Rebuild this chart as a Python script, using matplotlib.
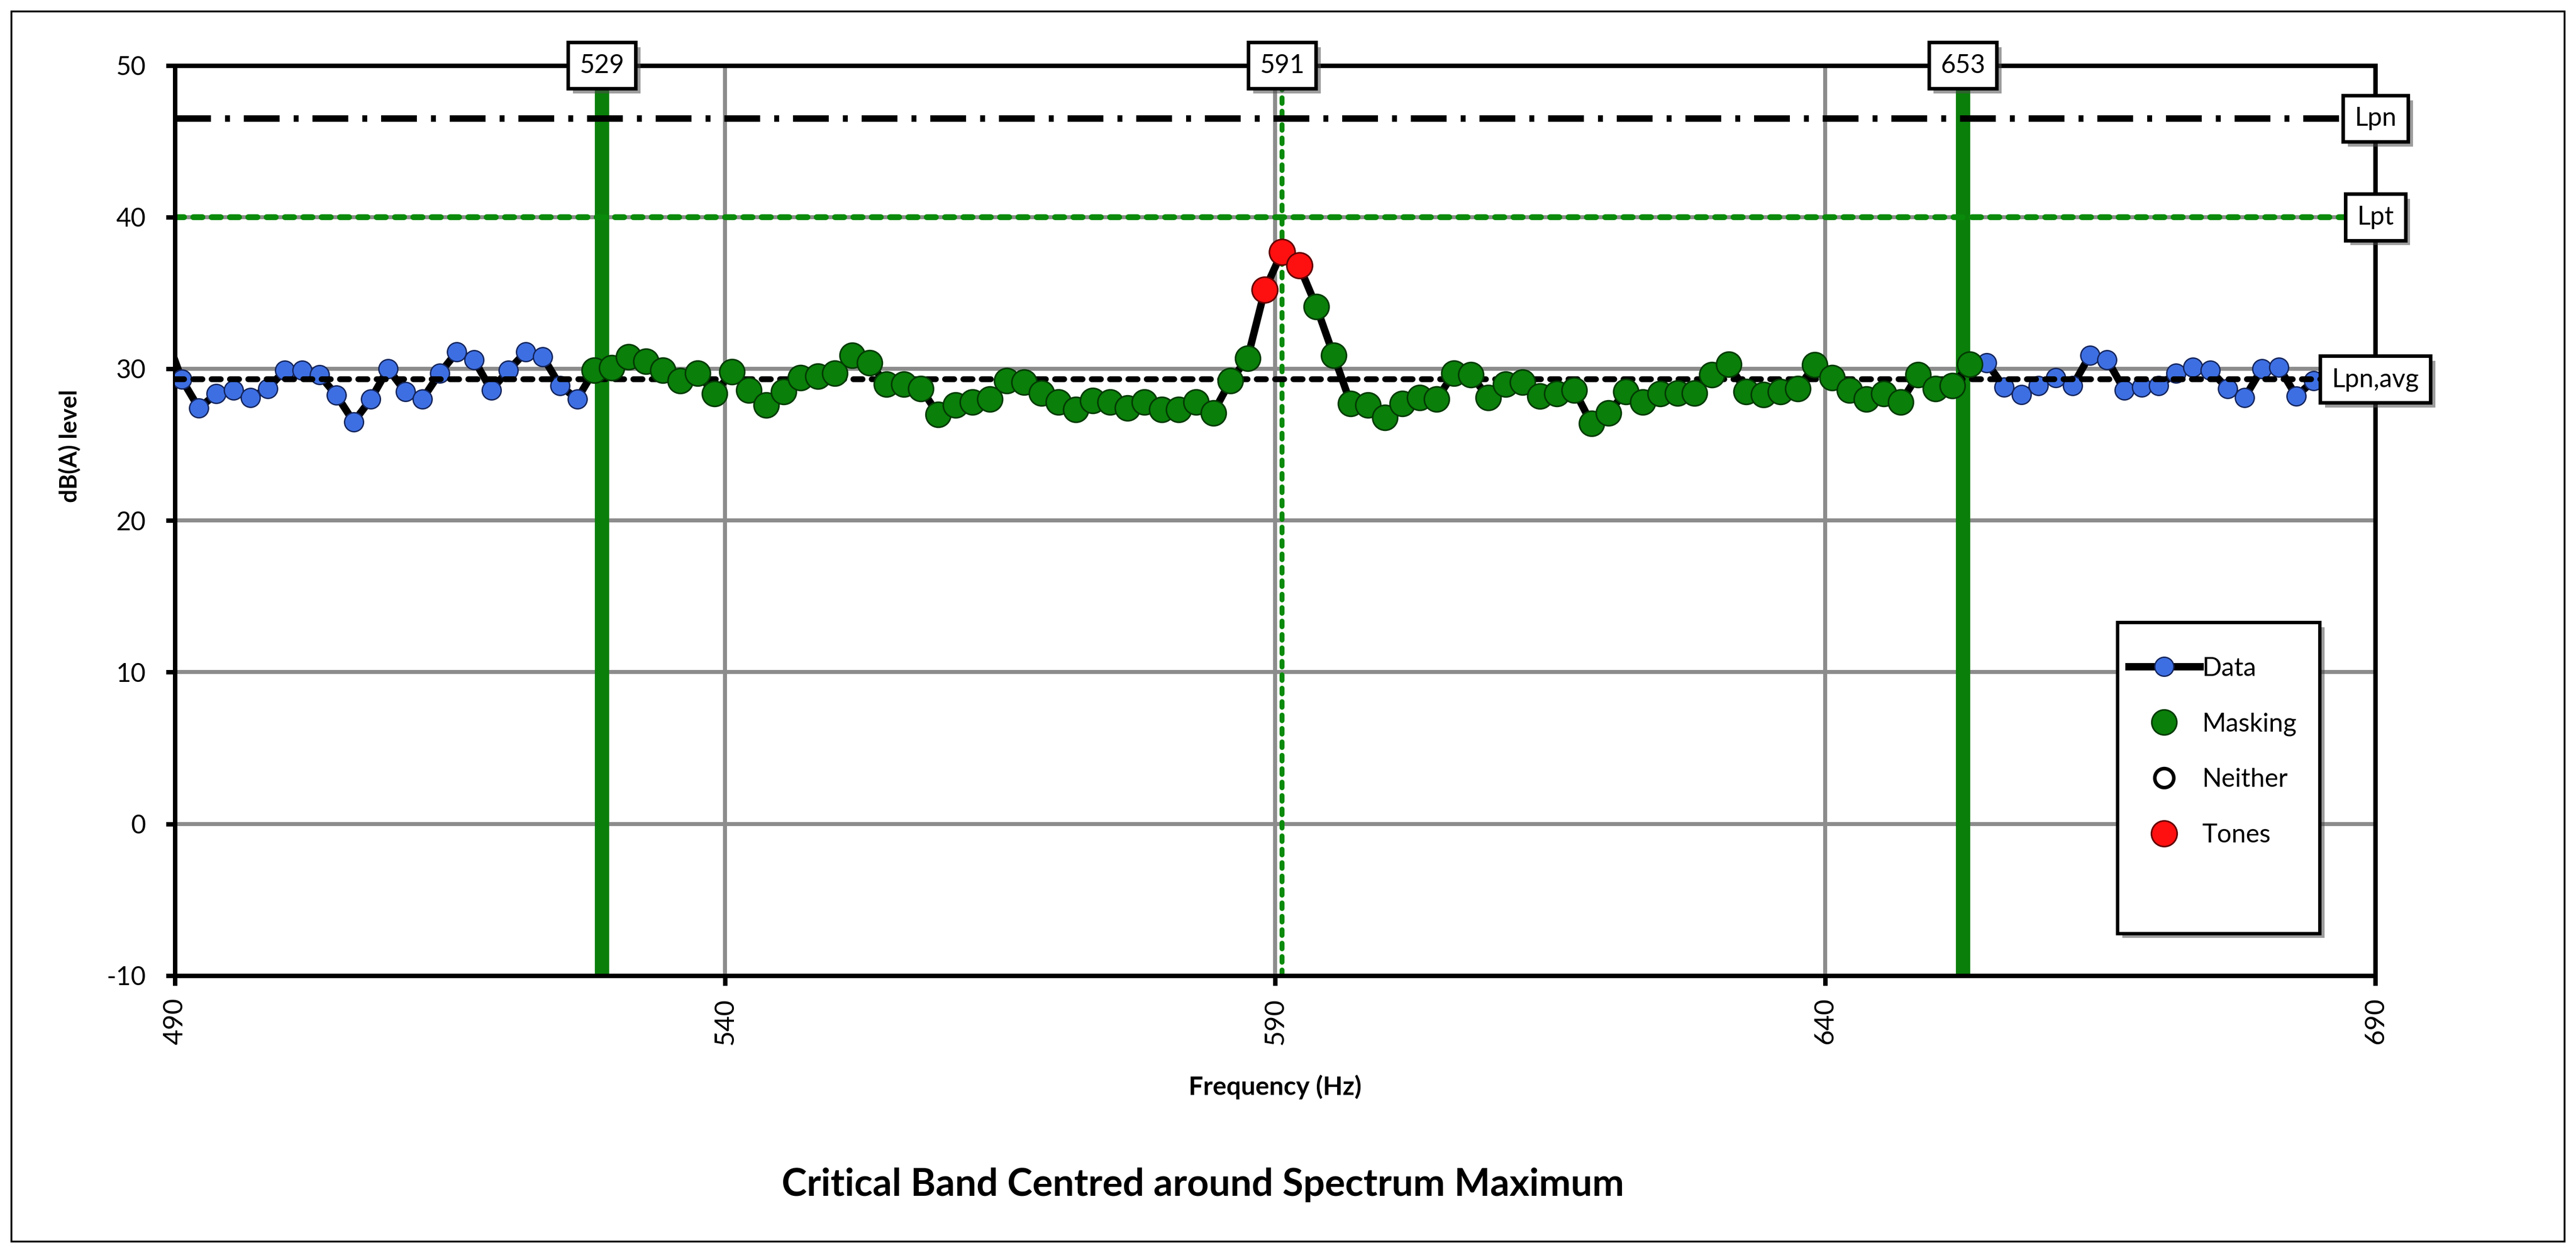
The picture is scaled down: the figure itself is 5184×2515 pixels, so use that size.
import numpy as np
import matplotlib
matplotlib.use('Agg')
import matplotlib.pyplot as plt
from matplotlib.patches import Rectangle
import matplotlib.patheffects as pe

plt.rcParams['font.family'] = ['Lato', 'DejaVu Sans']
plt.rcParams['lines.scale_dashes'] = False
plt.rcParams['axes.unicode_minus'] = False

# spectrum levels, one per FFT bin (1.5625 Hz wide), first bin = 313
bin_width = 1.5625
first_bin = 313
level = np.array([
    32.4, 29.3, 27.4, 28.35, 28.6, 28.1, 28.7, 29.9, 29.9, 29.6, 28.25, 26.5,
    28.0, 30.0, 28.5, 28.0, 29.7, 31.1, 30.6, 28.6, 29.9, 31.1, 30.8, 28.9, 28.0,
    29.9, 30.06, 30.8, 30.5, 29.9, 29.2, 29.7, 28.35, 29.8,
    28.6, 27.6, 28.5, 29.4, 29.5, 29.7, 30.9, 30.4, 29.0, 29.0, 28.7, 27.0,
    27.6, 27.8, 28.0, 29.2, 29.1, 28.4, 27.8, 27.3, 27.9, 27.8, 27.4, 27.8,
    27.3, 27.3, 27.8, 27.1, 29.2, 30.7, 35.2, 37.7, 36.8, 34.1, 30.9,
    27.7, 27.6, 26.8, 27.7, 28.1, 28.0, 29.7, 29.6, 28.1, 29.0, 29.1, 28.2,
    28.35, 28.6, 26.4, 27.1, 28.5, 27.8, 28.35, 28.4, 28.4, 29.6, 30.3, 28.5,
    28.3, 28.5, 28.7, 30.25, 29.4, 28.6, 28.0, 28.35, 27.8, 29.6, 28.7, 28.9,
    30.3,
    30.4, 28.8, 28.3, 28.9, 29.4, 28.9, 30.9, 30.6, 28.6, 28.8, 28.9, 29.7,
    30.1, 29.9, 28.7, 28.1, 30.0, 30.1, 28.2, 29.2, 29.0,
])
freq = bin_width * (first_bin + np.arange(len(level)))

# critical band and tone classification
band_lines = [528.8, 590.625, 652.5]
band_labels = ['529', '591', '653']
masking_range = (528.1, 653.2)
tone_freqs = [589.0625, 590.625, 592.1875]

# reference levels
ref_levels = [46.5, 40.0, 29.3]
ref_labels = ['Lpn', 'Lpt', 'Lpn,avg']

is_tone = np.isin(freq, tone_freqs)
is_mask = (freq >= masking_range[0]) & (freq <= masking_range[1]) & ~is_tone

green = '#0a7f0a'

fig = plt.figure(figsize=(16, 2515.5 / 324), dpi=324)
ax = fig.add_axes([0.0679, 0.2195, 0.8542, 0.728])

ax.set_xlim(490, 690)
ax.set_ylim(-10, 50)
ax.set_xticks(np.arange(490, 691, 50))
ax.set_yticks(np.arange(-10, 51, 10))
ax.grid(True, color='#8c8c8c', lw=1.8)
ax.set_axisbelow(True)
for s in ax.spines.values():
    s.set_linewidth(2)

# critical band edges and centre
ax.axvline(band_lines[0], color=green, lw=6.4, zorder=1)
ax.axvline(band_lines[2], color=green, lw=6.4, zorder=1)
ax.axvline(band_lines[1], color='#0a8a0a', lw=2.2, dashes=(2.5, 3.5),
           dash_capstyle='round', zorder=1.5)

# reference levels
ax.axhline(ref_levels[0], color='black', lw=2.9, dashes=(16, 6.3, 2.2, 6.2), zorder=2)
ax.axhline(ref_levels[1], color='#0a8a0a', lw=2.6, dashes=(4.1, 4.1),
           dash_capstyle='round', zorder=2)

ax.plot(freq, level, '-o', color='black', lw=3.3, mfc='#3d6fe3', mec='#14245a',
        mew=0.6, ms=8.5, zorder=3, label='Data')
ax.axhline(ref_levels[2], color='black', lw=2.6, dashes=(4.1, 4.1),
           dash_capstyle='round', zorder=4)
ax.plot(freq[is_mask], level[is_mask], 'o', ls='none', mfc=green, mec='#033a03',
        mew=0.7, ms=11.2, zorder=5, label='Masking')
ax.plot([], [], 'o', ls='none', mfc='white', mec='black', mew=1.6, ms=8.5,
        label='Neither')
ax.plot(freq[is_tone], level[is_tone], 'o', ls='none', mfc='#ff1010', mec='#600000',
        mew=0.7, ms=11.5, zorder=6, label='Tones')

shadow = [pe.SimplePatchShadow(offset=(2.2, -2.2), shadow_rgbFace='0.3', alpha=0.55),
          pe.Normal()]


def tag(x, y, s):
    t = ax.text(x, y, s, ha='center', va='center', fontsize=11.5, zorder=10,
                clip_on=False,
                bbox=dict(boxstyle='square,pad=0.45', fc='white', ec='black', lw=1.6))
    t.get_bbox_patch().set_path_effects(shadow)


for x, s in zip(band_lines, band_labels):
    tag(x, 50, s)
for y, s in zip(ref_levels, ref_labels):
    tag(690, y, s)

# legend
frame = Rectangle((0.8828, 0.0466), 0.0919, 0.3414, transform=ax.transAxes,
                  fc='white', ec='black', lw=1.5, zorder=7)
frame.set_path_effects(shadow)
ax.add_patch(frame)
leg = ax.legend(loc='center left', bbox_to_anchor=(0.888, 0.246), frameon=False,
                fontsize=11.5, handlelength=2.75, handletextpad=0.1,
                labelspacing=1.25, borderpad=0, borderaxespad=0, numpoints=1)
leg.set_zorder(8)

ax.tick_params(axis='y', direction='out', length=4, width=2, pad=9, labelsize=11.5)
ax.tick_params(axis='x', direction='out', length=4.4, width=2, pad=5.4,
               labelsize=12, labelrotation=90)

ax.set_ylabel('dB(A) level', fontsize=10.5, fontweight='bold')
ax.yaxis.set_label_coords(-0.0425, 0.582)
ax.set_xlabel('Frequency (Hz)', fontsize=11.5, fontweight='bold')
ax.xaxis.set_label_coords(0.5, -0.1087)

fig.text(0.4669, 0.0437, 'Critical Band Centred around Spectrum Maximum',
         ha='center', va='baseline', fontsize=17, fontweight='bold')

fig.patches.append(Rectangle((7 / 1568, 5 / 761), 1554 / 1568, 749 / 761,
                             transform=fig.transFigure, fill=False,
                             ec='black', lw=0.8))

fig.savefig('out.png', dpi=324)
